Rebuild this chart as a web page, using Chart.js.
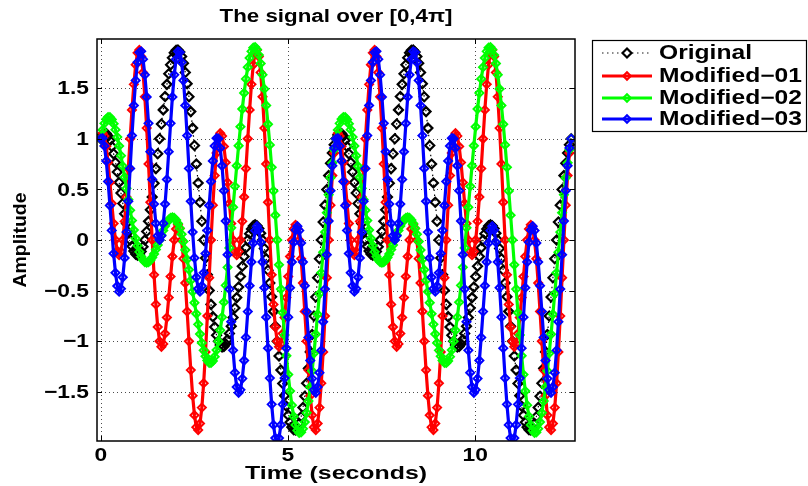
<!DOCTYPE html>
<html><head><meta charset="utf-8">
<script src="https://cdn.jsdelivr.net/npm/chart.js@4.4.0/dist/chart.umd.min.js"></script>
<style>html,body{margin:0;padding:0;background:#fff;}#wrap{position:relative;width:808px;height:486px;}</style>
</head><body><div id="wrap"><canvas id="c" width="808" height="486"></canvas></div>
<script>
const time = [0,0.049,0.098,0.147,0.196,0.245,0.295,0.344,0.393,0.442,
0.491,0.540,0.589,0.638,0.687,0.736,0.785,0.834,0.884,0.933,
0.982,1.031,1.080,1.129,1.178,1.227,1.276,1.325,1.374,1.424,
1.473,1.522,1.571,1.620,1.669,1.718,1.767,1.816,1.865,1.914,
1.963,2.013,2.062,2.111,2.160,2.209,2.258,2.307,2.356,2.405,
2.454,2.503,2.553,2.602,2.651,2.700,2.749,2.798,2.847,2.896,
2.945,2.994,3.043,3.093,3.142,3.191,3.240,3.289,3.338,3.387,
3.436,3.485,3.534,3.583,3.632,3.682,3.731,3.780,3.829,3.878,
3.927,3.976,4.025,4.074,4.123,4.172,4.222,4.271,4.320,4.369,
4.418,4.467,4.516,4.565,4.614,4.663,4.712,4.761,4.811,4.860,
4.909,4.958,5.007,5.056,5.105,5.154,5.203,5.252,5.301,5.351,
5.400,5.449,5.498,5.547,5.596,5.645,5.694,5.743,5.792,5.841,
5.890,5.940,5.989,6.038,6.087,6.136,6.185,6.234,6.283,6.332,
6.381,6.430,6.480,6.529,6.578,6.627,6.676,6.725,6.774,6.823,
6.872,6.921,6.970,7.020,7.069,7.118,7.167,7.216,7.265,7.314,
7.363,7.412,7.461,7.510,7.559,7.609,7.658,7.707,7.756,7.805,
7.854,7.903,7.952,8.001,8.050,8.099,8.149,8.198,8.247,8.296,
8.345,8.394,8.443,8.492,8.541,8.590,8.639,8.688,8.738,8.787,
8.836,8.885,8.934,8.983,9.032,9.081,9.130,9.179,9.228,9.278,
9.327,9.376,9.425,9.474,9.523,9.572,9.621,9.670,9.719,9.768,
9.817,9.867,9.916,9.965,10.014,10.063,10.112,10.161,10.210,10.259,
10.308,10.357,10.407,10.456,10.505,10.554,10.603,10.652,10.701,10.750,
10.799,10.848,10.897,10.946,10.996,11.045,11.094,11.143,11.192,11.241,
11.290,11.339,11.388,11.437,11.486,11.536,11.585,11.634,11.683,11.732,
11.781,11.830,11.879,11.928,11.977,12.026,12.076,12.125,12.174,12.223,
12.272,12.321,12.370,12.419,12.468,12.517,12.566];

const original = [
1.000,1.038,1.055,1.051,1.026,0.984,0.924,0.851,0.766,0.671,0.569,0.465,0.361,0.259,0.163,0.076,
0,-0.062,-0.109,-0.139,-0.150,-0.141,-0.113,-0.066,0,0.084,0.184,0.298,0.425,0.561,0.705,0.852,
1.000,1.146,1.285,1.417,1.537,1.642,1.730,1.800,1.848,1.874,1.877,1.857,1.812,1.745,1.655,1.544,
1.414,1.268,1.105,0.933,0.751,0.563,0.373,0.185,0,-0.177,-0.344,-0.498,-0.636,-0.757,-0.859,-0.940,
-1.000,-1.038,-1.055,-1.051,-1.026,-0.984,-0.924,-0.851,-0.766,-0.671,-0.569,-0.465,-0.361,-0.259,-0.163,-0.076,
0,0.062,0.109,0.139,0.150,0.141,0.113,0.066,0,-0.084,-0.184,-0.298,-0.425,-0.561,-0.705,-0.852,
-1.000,-1.146,-1.285,-1.417,-1.537,-1.642,-1.730,-1.800,-1.848,-1.874,-1.877,-1.857,-1.812,-1.745,-1.655,-1.544,
-1.414,-1.268,-1.105,-0.933,-0.751,-0.563,-0.373,-0.185,0,0.177,0.344,0.498,0.636,0.757,0.859,0.940,
1.000,1.038,1.055,1.051,1.026,0.984,0.924,0.851,0.766,0.671,0.569,0.465,0.361,0.259,0.163,0.076,
0,-0.062,-0.109,-0.139,-0.150,-0.141,-0.113,-0.066,0,0.084,0.184,0.298,0.425,0.561,0.705,0.852,
1.000,1.146,1.285,1.417,1.537,1.642,1.730,1.800,1.848,1.874,1.877,1.857,1.812,1.745,1.655,1.544,
1.414,1.268,1.105,0.933,0.751,0.563,0.373,0.185,0,-0.177,-0.344,-0.498,-0.636,-0.757,-0.859,-0.940,
-1.000,-1.038,-1.055,-1.051,-1.026,-0.984,-0.924,-0.851,-0.766,-0.671,-0.569,-0.465,-0.361,-0.259,-0.163,-0.076,
0,0.062,0.109,0.139,0.150,0.141,0.113,0.066,0,-0.084,-0.184,-0.298,-0.425,-0.561,-0.705,-0.852,
-1.000,-1.146,-1.285,-1.417,-1.537,-1.642,-1.730,-1.800,-1.848,-1.874,-1.877,-1.857,-1.812,-1.745,-1.655,-1.544,
-1.414,-1.268,-1.105,-0.933,-0.751,-0.563,-0.373,-0.185,0,0.177,0.344,0.498,0.636,0.757,0.859,0.940,
1.000];

const modified01 = [
1.000,1.055,1.026,0.924,0.766,0.569,0.361,0.163,0,-0.109,-0.150,-0.113,0,0.184,0.425,0.705,
1.000,1.285,1.537,1.730,1.848,1.877,1.812,1.655,1.414,1.105,0.751,0.373,0,-0.344,-0.636,-0.859,
-1.000,-1.055,-1.026,-0.924,-0.766,-0.569,-0.361,-0.163,0,0.109,0.150,0.113,0,-0.184,-0.425,-0.705,
-1.000,-1.285,-1.537,-1.730,-1.848,-1.877,-1.812,-1.655,-1.414,-1.105,-0.751,-0.373,0,0.344,0.636,0.859,
1.000,1.055,1.026,0.924,0.766,0.569,0.361,0.163,0,-0.109,-0.150,-0.113,0,0.184,0.425,0.705,
1.000,1.285,1.537,1.730,1.848,1.877,1.812,1.655,1.414,1.105,0.751,0.373,0,-0.344,-0.636,-0.859,
-1.000,-1.055,-1.026,-0.924,-0.766,-0.569,-0.361,-0.163,0,0.109,0.150,0.113,0,-0.184,-0.425,-0.705,
-1.000,-1.285,-1.537,-1.730,-1.848,-1.877,-1.812,-1.655,-1.414,-1.105,-0.751,-0.373,0,0.344,0.636,0.859,
1.000,1.055,1.026,0.924,0.766,0.569,0.361,0.163,0,-0.109,-0.150,-0.113,0,0.184,0.425,0.705,
1.000,1.285,1.537,1.730,1.848,1.877,1.812,1.655,1.414,1.105,0.751,0.373,0,-0.344,-0.636,-0.859,
-1.000,-1.055,-1.026,-0.924,-0.766,-0.569,-0.361,-0.163,0,0.109,0.150,0.113,0,-0.184,-0.425,-0.705,
-1.000,-1.285,-1.537,-1.730,-1.848,-1.877,-1.812,-1.655,-1.414,-1.105,-0.751,-0.373,0,0.344,0.636,0.859,
1.000,1.055,1.026,0.924,0.766,0.569,0.361,0.163,0,-0.109,-0.150,-0.113,0,0.184,0.425,0.705,
1.000,1.285,1.537,1.730,1.848,1.877,1.812,1.655,1.414,1.105,0.751,0.373,0,-0.344,-0.636,-0.859,
-1.000,-1.055,-1.026,-0.924,-0.766,-0.569,-0.361,-0.163,0,0.109,0.150,0.113,0,-0.184,-0.425,-0.705,
-1.000,-1.285,-1.537,-1.730,-1.848,-1.877,-1.812,-1.655,-1.414,-1.105,-0.751,-0.373,0,0.344,0.636,0.859,
1.000];

const modified02 = [
1.000,1.087,1.152,1.194,1.214,1.212,1.190,1.148,1.090,1.016,0.929,0.833,0.729,0.620,0.510,0.399,
0.293,0.192,0.099,0.015,-0.057,-0.117,-0.164,-0.197,-0.217,-0.224,-0.217,-0.201,-0.173,-0.138,-0.095,-0.049,
0,0.049,0.095,0.138,0.173,0.201,0.217,0.224,0.217,0.197,0.164,0.117,0.057,-0.015,-0.099,-0.192,
-0.293,-0.399,-0.510,-0.620,-0.729,-0.833,-0.929,-1.016,-1.090,-1.148,-1.190,-1.212,-1.214,-1.194,-1.152,-1.087,
-1.000,-0.891,-0.762,-0.614,-0.448,-0.270,-0.078,0.120,0.324,0.530,0.733,0.931,1.119,1.294,1.452,1.591,
1.707,1.798,1.863,1.899,1.905,1.881,1.826,1.743,1.631,1.492,1.329,1.143,0.939,0.718,0.485,0.245,
0,-0.245,-0.485,-0.718,-0.939,-1.143,-1.329,-1.492,-1.631,-1.743,-1.826,-1.881,-1.905,-1.899,-1.863,-1.798,
-1.707,-1.591,-1.452,-1.294,-1.119,-0.931,-0.733,-0.530,-0.324,-0.120,0.078,0.270,0.448,0.614,0.762,0.891,
1.000,1.087,1.152,1.194,1.214,1.212,1.190,1.148,1.090,1.016,0.929,0.833,0.729,0.620,0.510,0.399,
0.293,0.192,0.099,0.015,-0.057,-0.117,-0.164,-0.197,-0.217,-0.224,-0.217,-0.201,-0.173,-0.138,-0.095,-0.049,
0,0.049,0.095,0.138,0.173,0.201,0.217,0.224,0.217,0.197,0.164,0.117,0.057,-0.015,-0.099,-0.192,
-0.293,-0.399,-0.510,-0.620,-0.729,-0.833,-0.929,-1.016,-1.090,-1.148,-1.190,-1.212,-1.214,-1.194,-1.152,-1.087,
-1.000,-0.891,-0.762,-0.614,-0.448,-0.270,-0.078,0.120,0.324,0.530,0.733,0.931,1.119,1.294,1.452,1.591,
1.707,1.798,1.863,1.899,1.905,1.881,1.826,1.743,1.631,1.492,1.329,1.143,0.939,0.718,0.485,0.245,
0,-0.245,-0.485,-0.718,-0.939,-1.143,-1.329,-1.492,-1.631,-1.743,-1.826,-1.881,-1.905,-1.899,-1.863,-1.798,
-1.707,-1.591,-1.452,-1.294,-1.119,-0.931,-0.733,-0.530,-0.324,-0.120,0.078,0.270,0.448,0.614,0.762,0.891,
1.000];

const modified03 = [
1.000,1.006,0.929,0.781,0.578,0.341,0.095,-0.134,-0.324,-0.454,-0.510,-0.481,-0.368,-0.177,0.078,0.382,
0.707,1.031,1.329,1.576,1.755,1.853,1.863,1.786,1.631,1.413,1.152,0.872,0.598,0.355,0.164,0.042,
0,0.042,0.164,0.355,0.598,0.872,1.152,1.413,1.631,1.786,1.863,1.853,1.755,1.576,1.329,1.031,
0.707,0.382,0.078,-0.177,-0.368,-0.481,-0.510,-0.454,-0.324,-0.134,0.095,0.341,0.578,0.781,0.929,1.006,
1.000,0.908,0.733,0.487,0.188,-0.145,-0.485,-0.808,-1.090,-1.310,-1.452,-1.509,-1.480,-1.369,-1.190,-0.962,
-0.707,-0.451,-0.217,-0.030,0.093,0.137,0.099,-0.022,-0.217,-0.471,-0.762,-1.068,-1.364,-1.623,-1.826,-1.956,
-2.000,-1.956,-1.826,-1.623,-1.364,-1.068,-0.762,-0.471,-0.217,-0.022,0.099,0.137,0.093,-0.030,-0.217,-0.451,
-0.707,-0.962,-1.190,-1.369,-1.480,-1.509,-1.452,-1.310,-1.090,-0.808,-0.485,-0.145,0.188,0.487,0.733,0.908,
1.000,1.006,0.929,0.781,0.578,0.341,0.095,-0.134,-0.324,-0.454,-0.510,-0.481,-0.368,-0.177,0.078,0.382,
0.707,1.031,1.329,1.576,1.755,1.853,1.863,1.786,1.631,1.413,1.152,0.872,0.598,0.355,0.164,0.042,
0,0.042,0.164,0.355,0.598,0.872,1.152,1.413,1.631,1.786,1.863,1.853,1.755,1.576,1.329,1.031,
0.707,0.382,0.078,-0.177,-0.368,-0.481,-0.510,-0.454,-0.324,-0.134,0.095,0.341,0.578,0.781,0.929,1.006,
1.000,0.908,0.733,0.487,0.188,-0.145,-0.485,-0.808,-1.090,-1.310,-1.452,-1.509,-1.480,-1.369,-1.190,-0.962,
-0.707,-0.451,-0.217,-0.030,0.093,0.137,0.099,-0.022,-0.217,-0.471,-0.762,-1.068,-1.364,-1.623,-1.826,-1.956,
-2.000,-1.956,-1.826,-1.623,-1.364,-1.068,-0.762,-0.471,-0.217,-0.022,0.099,0.137,0.093,-0.030,-0.217,-0.451,
-0.707,-0.962,-1.190,-1.369,-1.480,-1.509,-1.452,-1.310,-1.090,-0.808,-0.485,-0.145,0.188,0.487,0.733,0.908,
1.000];

const xTicks = [0, 5, 10];
const yTicks = [-1.5, -1, -0.5, 0, 0.5, 1, 1.5];
const seriesNames = ['Original', 'Modified\u221201', 'Modified\u221202', 'Modified\u221203'];
const seriesColors = ['#000000', '#ff0000', '#00ff00', '#0000ff'];
const titleText = 'The signal over [0,4\u03c0]';
const xTitle = 'Time (seconds)';
const yTitle = 'Amplitude';

const FONT = '"Liberation Sans", Arial, Helvetica, sans-serif';
function txt(ctx, s, x, y, size, align, sx, rot) {
  ctx.save();
  ctx.font = 'bold ' + size + 'px ' + FONT;
  ctx.translate(x, y);
  if (rot) ctx.rotate(rot);
  ctx.scale(sx, 1);
  ctx.textAlign = align;
  ctx.textBaseline = 'middle';
  ctx.fillStyle = '#000';
  ctx.fillText(s, 0, 0);
  ctx.restore();
}
function fitSx(ctx, s, size, target) {
  ctx.save();
  ctx.font = 'bold ' + size + 'px ' + FONT;
  const w = ctx.measureText(s).width;
  ctx.restore();
  return target / w;
}
function fmt(v) {
  const s = String(v);
  return v < 0 ? '\u2212' + s.slice(1) : s;
}
function diamond(ctx, x, y, r) {
  ctx.beginPath();
  ctx.moveTo(x - r, y); ctx.lineTo(x, y - r); ctx.lineTo(x + r, y); ctx.lineTo(x, y + r);
  ctx.closePath();
}

const decor = {
  id: 'decor',
  beforeDatasetsDraw(chart) {
    const ctx = chart.ctx, a = chart.chartArea;
    const xs = chart.scales.x, ys = chart.scales.y;
    ctx.save();
    ctx.strokeStyle = 'rgba(0,0,0,0.7)';
    ctx.lineWidth = 1;
    ctx.setLineDash([1, 3]);
    xTicks.forEach(v => {
      const px = Math.round(xs.getPixelForValue(v)) + 0.5;
      ctx.beginPath(); ctx.moveTo(px, a.top); ctx.lineTo(px, a.bottom); ctx.stroke();
    });
    yTicks.forEach(v => {
      const py = Math.round(ys.getPixelForValue(v)) + 0.5;
      ctx.beginPath(); ctx.moveTo(a.left, py); ctx.lineTo(a.right, py); ctx.stroke();
    });
    ctx.restore();
  },
  afterDatasetsDraw(chart) {
    const ctx = chart.ctx, a = chart.chartArea;
    const xs = chart.scales.x, ys = chart.scales.y;
    ctx.save();
    ctx.strokeStyle = '#000';
    ctx.lineWidth = 1.5;
    ctx.strokeRect(a.left, a.top, a.right - a.left, a.bottom - a.top);
    ctx.lineWidth = 1;
    const tl = 5;
    xTicks.forEach(v => {
      const px = Math.round(xs.getPixelForValue(v)) + 0.5;
      ctx.beginPath();
      ctx.moveTo(px, a.bottom); ctx.lineTo(px, a.bottom - tl);
      ctx.moveTo(px, a.top); ctx.lineTo(px, a.top + tl);
      ctx.stroke();
    });
    yTicks.forEach(v => {
      const py = Math.round(ys.getPixelForValue(v)) + 0.5;
      ctx.beginPath();
      ctx.moveTo(a.left, py); ctx.lineTo(a.left + tl, py);
      ctx.moveTo(a.right, py); ctx.lineTo(a.right - tl, py);
      ctx.stroke();
    });
    ctx.restore();

    const tickSize = 19, tickSx = 1.2;
    xTicks.forEach(v => txt(ctx, fmt(v), xs.getPixelForValue(v), a.bottom + 15, tickSize, 'center', tickSx));
    yTicks.forEach(v => txt(ctx, fmt(v), a.left - 8, ys.getPixelForValue(v) + 1, tickSize, 'right', tickSx));

    const cx = (a.left + a.right) / 2;
    txt(ctx, titleText, cx, 17, 18, 'center', fitSx(ctx, titleText, 18, 233));
    txt(ctx, xTitle, cx, 474, 19, 'center', fitSx(ctx, xTitle, 19, 182));
    txt(ctx, yTitle, 21, (a.top + a.bottom) / 2, 18, 'center', fitSx(ctx, yTitle, 18, 95), -Math.PI / 2);

    // legend
    ctx.save();
    ctx.fillStyle = '#fff';
    ctx.fillRect(592, 40, 215, 92);
    ctx.strokeStyle = '#000';
    ctx.lineWidth = 1.2;
    ctx.strokeRect(592.5, 40.5, 214, 91);
    ctx.restore();
    const rows = [53, 76, 98, 119];
    const lsx = fitSx(ctx, 'Original', 19.5, 93);
    seriesNames.forEach((name, i) => {
      const y = rows[i];
      ctx.save();
      ctx.strokeStyle = seriesColors[i];
      if (i === 0) { ctx.lineWidth = 1.5; ctx.setLineDash([1.5, 3.5]); ctx.strokeStyle = '#666'; }
      else { ctx.lineWidth = 3; }
      ctx.beginPath(); ctx.moveTo(602, y); ctx.lineTo(652, y); ctx.stroke();
      ctx.setLineDash([]);
      ctx.strokeStyle = seriesColors[i];
      ctx.lineWidth = i === 0 ? 2.2 : 2;
      diamond(ctx, 627, y, i === 0 ? 4.5 : 3.8);
      if (i === 0) { ctx.fillStyle = '#fff'; ctx.fill(); }
      ctx.stroke();
      ctx.restore();
      txt(ctx, name, 659, y + 1, 19.5, 'left', lsx);
    });
  }
};

function pts(vals) { return time.map((t, i) => ({ x: t, y: vals[i] })); }

new Chart(document.getElementById('c'), {
  type: 'line',
  data: {
    datasets: [
      { label: seriesNames[0], data: pts(original), borderColor: '#000', borderWidth: 1.2, borderDash: [1.5, 3.5],
        pointStyle: 'rectRot', pointRadius: 4.5, pointBorderWidth: 2.2, pointBorderColor: '#000', pointBackgroundColor: 'rgba(255,255,255,0)', order: 4 },
      { label: seriesNames[1], data: pts(modified01), borderColor: '#ff0000', borderWidth: 3.2,
        pointStyle: 'rectRot', pointRadius: 4, pointBorderWidth: 2, pointBorderColor: '#ff0000', pointBackgroundColor: 'rgba(255,255,255,0)', order: 3 },
      { label: seriesNames[2], data: pts(modified02), borderColor: '#00ff00', borderWidth: 3.2,
        pointStyle: 'rectRot', pointRadius: 4, pointBorderWidth: 2, pointBorderColor: '#00ff00', pointBackgroundColor: 'rgba(255,255,255,0)', order: 2 },
      { label: seriesNames[3], data: pts(modified03), borderColor: '#0000ff', borderWidth: 3.2,
        pointStyle: 'rectRot', pointRadius: 4, pointBorderWidth: 2, pointBorderColor: '#0000ff', pointBackgroundColor: 'rgba(255,255,255,0)', order: 1 }
    ]
  },
  options: {
    responsive: false,
    animation: false,
    devicePixelRatio: 1,
    events: [],
    layout: { padding: { left: 97, right: 233, top: 39, bottom: 45 } },
    elements: { line: { tension: 0, fill: false } },
    datasets: { line: { clip: 0 } },
    plugins: { legend: { display: false }, title: { display: false }, tooltip: { enabled: false } },
    scales: {
      x: { type: 'linear', min: -0.1, max: 12.666, ticks: { display: false }, grid: { display: false }, border: { display: false },
           afterFit(s) { s.height = 0; } },
      y: { type: 'linear', min: -1.985, max: 1.985, ticks: { display: false }, grid: { display: false }, border: { display: false },
           afterFit(s) { s.width = 0; } }
    }
  },
  plugins: [decor]
});
</script>
</body></html>
